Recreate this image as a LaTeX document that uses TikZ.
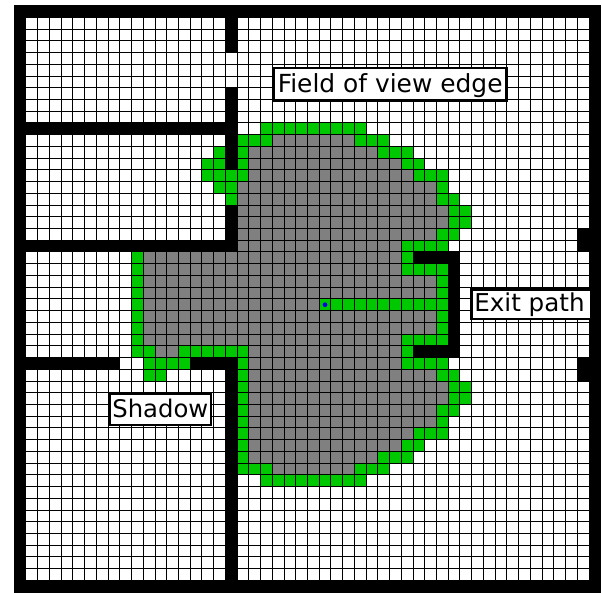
\documentclass[tikz,border=0pt]{standalone}
\usepackage{fontspec}
\setmainfont{DejaVu Sans}
\definecolor{fov}{RGB}{128,128,128}
\definecolor{edgecell}{RGB}{0,200,0}
\definecolor{dotblue}{RGB}{0,0,230}
\tikzset{
  labelbox/.style={draw=black,fill=white,line width=2.5pt,inner sep=0pt,font=\fontsize{#1}{30}\selectfont,text depth=5pt},
}
\begin{document}
\begin{tikzpicture}[x=1pt,y=-1pt]
\useasboundingbox[fill=white] (0,0) rectangle (602,593);
\begin{scope}[shift={(14.2pt,-5.6pt)},x=11.73pt,y=-11.73pt]
% field of view
\foreach \r/\a/\b in {11/22/28,12/20/30,13/20/32,14/20/33,15/19/35,16/19/35,17/19/36,18/19/36,19/19/35,20/19/32,21/11/32,22/11/32,23/11/35,24/11/35,25/11/35,26/11/35,27/11/35,28/11/32,29/12/13,29/20/32,30/20/32,31/20/35,32/20/36,33/20/36,34/20/35,35/20/35,36/20/33,37/20/32,38/20/30,39/22/28}
  \fill[fov] (\a,\r) rectangle (\b+1,\r+1);
% edge and exit path cells
\foreach \r/\a/\b in {10/21/29,11/19/21,11/29/31,12/17/17,12/19/19,12/31/33,13/16/17,13/19/19,13/33/34,14/16/19,14/34/36,15/17/18,15/36/36,16/18/18,16/36/37,17/37/38,18/37/38,19/36/37,20/33/36,21/10/10,21/33/33,22/10/10,22/33/36,23/10/10,23/36/36,24/10/10,24/36/36,25/10/10,25/26/36,26/10/10,26/36/36,27/10/10,27/36/36,28/10/10,28/33/36,29/10/11,29/14/19,29/33/33,30/11/14,30/19/19,30/33/36,31/11/12,31/19/19,31/36/37,32/19/19,32/37/38,33/19/19,33/37/38,34/19/19,34/36/37,35/19/19,35/36/36,36/19/19,36/34/36,37/19/19,37/33/34,38/19/19,38/31/33,39/19/21,39/29/31,40/21/29}
  \fill[edgecell] (\a,\r) rectangle (\b+1,\r+1);
% grid
\foreach \i in {0,...,50} {
  \draw[black,line width=0.9pt] (\i,0) -- (\i,50);
  \draw[black,line width=0.9pt] (0,\i) -- (50,\i);
}
% walls
\foreach \x/\y/\w/\h in {0/0/50/1,0/49/50/1,0/0/1/50,49/0/1/50,18/0/1/4,18/7/1/7,18/17/1/4,0/10/19/1,0/20/19/1,0/30/9/1,15/30/4/1,18/30/1/20,37/21/1/9,34/21/4/1,34/29/4/1,48/19/1/2,48/30/1/2}
  \fill[black] (\x,\y) rectangle (\x+\w,\y+\h);
\fill[dotblue] (26.5,25.5) circle[radius=0.2];
\end{scope}
\node[labelbox=24.9,text height=21pt,minimum width=232.5pt,minimum height=32.5pt] (fov) at (390.2,84.2) {Field of view edge};
\node[labelbox=24.6,text height=19pt,minimum width=119.5pt,minimum height=29.7pt] (exit) at (531,304.4) {Exit path\kern3pt};
\node[labelbox=24.3,text height=22pt,minimum width=101.5pt,minimum height=31pt] (shadow) at (160.3,409.3) {Shadow};
\end{tikzpicture}
\end{document}
